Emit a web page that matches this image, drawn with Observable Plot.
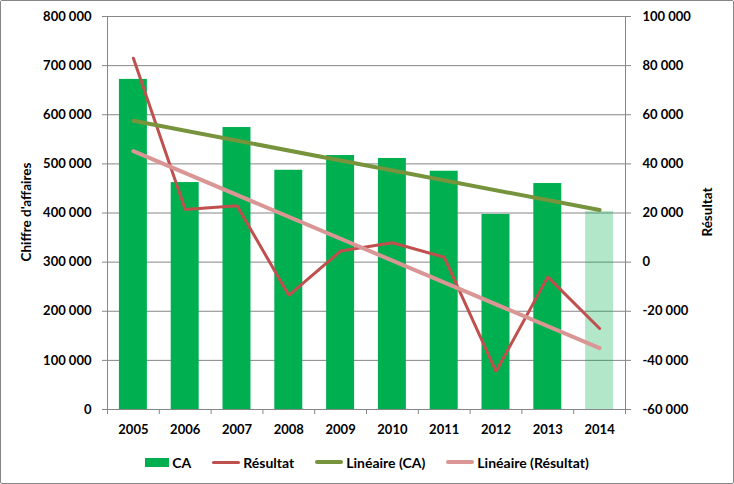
<!DOCTYPE html>
<html>
<head>
<meta charset="utf-8">
<script src="https://cdn.jsdelivr.net/npm/d3@7"></script>
<script src="https://cdn.jsdelivr.net/npm/@observablehq/plot@0.6"></script>
<style>
  html, body { margin: 0; padding: 0; background: #fff; }
  #frame {
    position: relative; width: 734px; height: 484px; box-sizing: border-box;
    border: 1px solid #868686; border-radius: 2px; background: #fff; overflow: hidden;
    font-family: Lato, "Open Sans", sans-serif; font-weight: bold; color: #000;
  }
  #chart svg { display: block; }
  .ytitle {
    position: absolute; white-space: nowrap; font-size: 13.5px; font-weight: bold;
    transform: translate(-50%, -50%) rotate(-90deg); line-height: 1;
  }
  #legend {
    position: absolute; left: 0; right: 0; top: 451px; height: 20px;
    display: flex; justify-content: center; align-items: center; gap: 21px;
    font-size: 14px; font-weight: bold; font-family: Lato, sans-serif;
  }
  .item { display: flex; align-items: center; gap: 3px; white-space: nowrap; }
  .sw-rect { width: 24px; height: 9px; display: inline-block; }
  .sw-line { width: 28px; display: inline-block; border-radius: 2px; }
</style>
</head>
<body>
<div id="frame">
  <div id="chart"></div>
  <div id="leftTitle" class="ytitle" style="left:26px; top:211px;"></div>
  <div id="rightTitle" class="ytitle" style="left:707px; top:211px;"></div>
  <div id="legend"></div>
</div>
<script>
// ---- Data ----
const years = ["2005", "2006", "2007", "2008", "2009", "2010", "2011", "2012", "2013", "2014"];
const ca = [672000, 462000, 574000, 487000, 517000, 511000, 485000, 397000, 460000, 403000];
const resultat = [83000, 21400, 23000, -13500, 4500, 7900, 2000, -44500, -6000, -27000];
const leftTicks = [0, 100000, 200000, 300000, 400000, 500000, 600000, 700000, 800000];
const rightTicks = [-60000, -40000, -20000, 0, 20000, 40000, 60000, 80000, 100000];
const seriesNames = ["CA", "Résultat", "Linéaire (CA)", "Linéaire (Résultat)"];
const leftTitle = "Chiffre d'affaires";
const rightTitle = "Résultat";

// ---- Helpers ----
const leftMin = leftTicks[0], leftMax = leftTicks[leftTicks.length - 1];
const rightMin = rightTicks[0], rightMax = rightTicks[rightTicks.length - 1];
const k = (leftMax - leftMin) / (rightMax - rightMin);
const toLeft = r => (r - rightMin) * k + leftMin;
const fromLeft = v => (v - leftMin) / k + rightMin;

const locale = d3.formatLocale({decimal: ",", thousands: "\u00a0", grouping: [3], currency: ["", " €"], minus: "-"});
const fmt = locale.format(",d");

function linFit(vals) {
  const n = vals.length;
  const xs = vals.map((_, i) => i);
  const mx = d3.mean(xs), my = d3.mean(vals);
  let sxy = 0, sxx = 0;
  for (let i = 0; i < n; i++) { sxy += (xs[i] - mx) * (vals[i] - my); sxx += (xs[i] - mx) ** 2; }
  const b = sxy / sxx, a = my - b * mx;
  return xs.map(x => a + b * x);
}

const data = years.map((year, i) => ({year, ca: ca[i], res: resultat[i]}));
const fitCA = linFit(ca);
const fitRes = linFit(resultat);
const ends = [0, years.length - 1];
const trendCA = ends.map(i => ({year: years[i], v: fitCA[i]}));
const trendRes = ends.map(i => ({year: years[i], v: toLeft(fitRes[i])}));
const lastYear = years[years.length - 1];

// ---- Colors ----
const cGreen = "#00B050", cRed = "#C0504D", cOlive = "#77933C", cPink = "#D99694", cGrid = "#868686";

// ---- Layout ----
const W = 732, H = 440;
const mL = 106, mR = 108, mT = 15, mB = 32;
const step = (W - mL - mR) / years.length;

const chart = Plot.plot({
  width: W, height: H,
  marginLeft: mL, marginRight: mR, marginTop: mT, marginBottom: mB,
  style: {fontFamily: "Lato, sans-serif", fontSize: "13px", fontWeight: "bold", color: "#000", background: "#fff"},
  x: {type: "band", domain: years, paddingInner: 0.46, paddingOuter: 0.23, round: false, axis: null, label: null},
  y: {domain: [leftMin, leftMax], axis: null, label: null},
  marks: [
    Plot.gridY(leftTicks, {stroke: cGrid, strokeOpacity: 1}),
    Plot.barY(data, {filter: d => d.year !== lastYear, x: "year", y: "ca", fill: cGreen}),
    Plot.barY(data, {filter: d => d.year === lastYear, x: "year", y: "ca", fill: cGreen, fillOpacity: 0.3}),
    // axis lines (left/right) and category boundary ticks
    Plot.ruleX([years[0]], {x: d => d, dx: -step / 2, y1: leftMax, y2: leftMin, insetBottom: -5, stroke: cGrid}),
    Plot.ruleX([lastYear], {x: d => d, dx: step / 2, y1: leftMax, y2: leftMin, insetBottom: -5, stroke: cGrid}),
    Plot.ruleX(years, {x: d => d, dx: -step / 2, y1: leftMin, y2: leftMin, insetBottom: -5, stroke: cGrid}),
    Plot.axisY(leftTicks, {anchor: "left", label: null, tickSize: 5, tickPadding: 11, tickFormat: fmt, stroke: cGrid, fill: "#000", fontSize: 13, fontWeight: "bold"}),
    Plot.axisY(rightTicks.map(toLeft), {anchor: "right", label: null, tickSize: 5, tickPadding: 12, tickFormat: d => fmt(Math.round(fromLeft(d))), stroke: cGrid, fill: "#000", fontSize: 13, fontWeight: "bold"}),
    Plot.axisX(years, {anchor: "bottom", label: null, tickSize: 0, tickPadding: 15, fill: "#000", fontSize: 13, fontWeight: "bold"}),
    Plot.line(data, {x: "year", y: d => toLeft(d.res), stroke: cRed, strokeWidth: 3, strokeLinejoin: "miter"}),
    Plot.line(trendCA, {x: "year", y: "v", stroke: cOlive, strokeWidth: 4, strokeLinecap: "round"}),
    Plot.line(trendRes, {x: "year", y: "v", stroke: cPink, strokeWidth: 4, strokeLinecap: "round"})
  ]
});
document.getElementById("chart").appendChild(chart);
document.getElementById("leftTitle").textContent = leftTitle;
document.getElementById("rightTitle").textContent = rightTitle;

// ---- Legend ----
const legend = document.getElementById("legend");
const swatches = [
  {type: "rect", color: cGreen},
  {type: "line", color: cRed, w: 3},
  {type: "line", color: cOlive, w: 4},
  {type: "line", color: cPink, w: 4}
];
seriesNames.forEach((name, i) => {
  const item = document.createElement("div");
  item.className = "item";
  const sw = document.createElement("span");
  const s = swatches[i];
  if (s.type === "rect") { sw.className = "sw-rect"; }
  else { sw.className = "sw-line"; sw.style.height = s.w + "px"; }
  sw.style.background = s.color;
  const t = document.createElement("span");
  t.textContent = name;
  item.appendChild(sw); item.appendChild(t);
  legend.appendChild(item);
});
</script>
</body>
</html>
